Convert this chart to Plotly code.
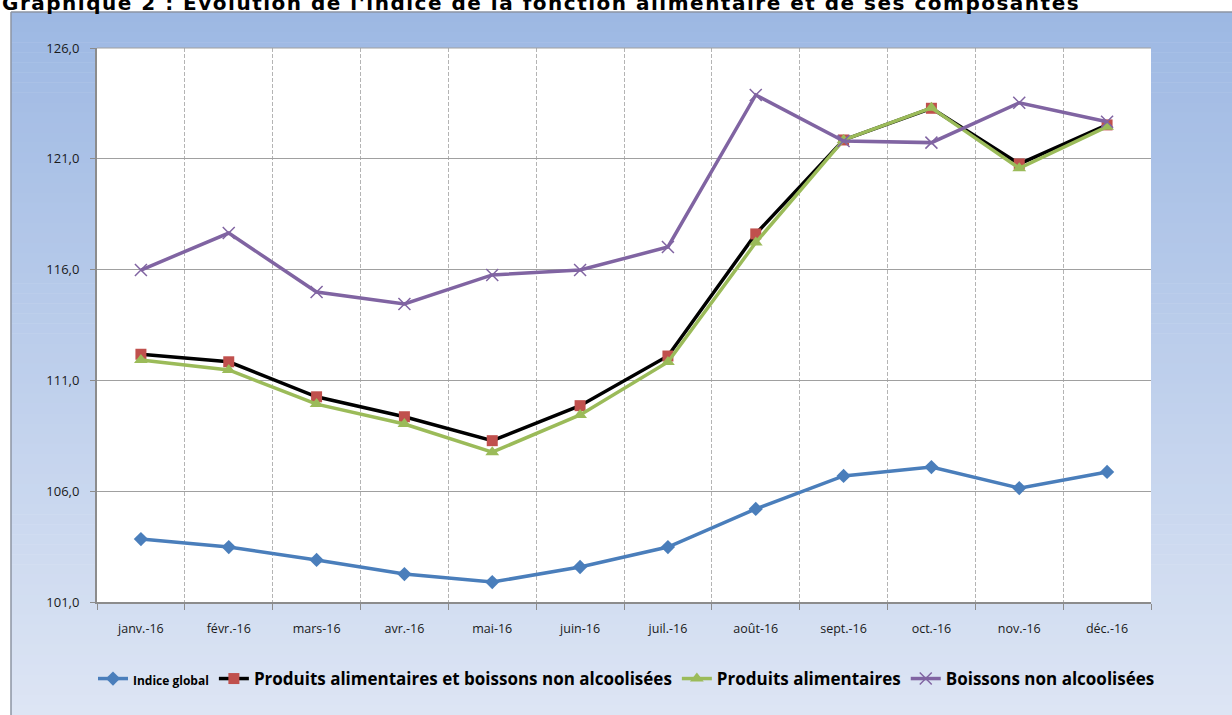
import plotly.graph_objects as go

months = ["janv.-16", "févr.-16", "mars-16", "avr.-16", "mai-16", "juin-16",
          "juil.-16", "août-16", "sept.-16", "oct.-16", "nov.-16", "déc.-16"]
indice_global = [103.84, 103.48, 102.9, 102.26, 101.9, 102.58, 103.48, 105.2, 106.69, 107.09, 106.14, 106.87]
prod_alim_boissons = [112.18, 111.84, 110.26, 109.36, 108.28, 109.86, 112.1, 117.61, 121.85, 123.28, 120.77, 122.53]
prod_alim = [111.92, 111.47, 109.93, 109.03, 107.76, 109.44, 111.83, 117.22, 121.85, 123.3, 120.57, 122.45]
boissons = [115.98, 117.65, 114.99, 114.45, 115.76, 115.98, 117.02, 123.88, 121.8, 121.73, 123.53, 122.67]
y_ticks = [101, 106, 111, 116, 121, 126]

W, H = 1232, 715
L, R, T, B = 97, 81, 48, 113
pw, ph = W - L - R, H - T - B

def px(x):
    return (x - L) / pw

def py(y):
    return (H - B - y) / ph

fig = go.Figure()
fig.add_trace(go.Scatter(x=months, y=indice_global, mode="lines+markers",
                         name="<span style='font-size:12px'>Indice global</span>",
                         line=dict(color="#4A7EBB", width=3.5),
                         marker=dict(symbol="diamond", size=11, color="#4A7EBB")))
fig.add_trace(go.Scatter(x=months, y=prod_alim_boissons, mode="lines+markers",
                         name="Produits alimentaires et boissons non alcoolisées",
                         line=dict(color="#000000", width=3.5),
                         marker=dict(symbol="square", size=11, color="#C0504D")))
fig.add_trace(go.Scatter(x=months, y=prod_alim, mode="lines+markers",
                         name="Produits alimentaires",
                         line=dict(color="#9BBB59", width=3.5),
                         marker=dict(symbol="triangle-up", size=12, color="#9BBB59")))
fig.add_trace(go.Scatter(x=months, y=boissons, mode="lines+markers",
                         name="Boissons non alcoolisées",
                         line=dict(color="#8064A2", width=3.5),
                         marker=dict(symbol="x-thin", size=12, color="#8064A2",
                                     line=dict(color="#8064A2", width=1.5))))

# gradient chart-area background
shapes = []
top_c = (157, 184, 227)
bot_c = (221, 229, 244)
y0, y1 = 12, H
n = 70
for i in range(n):
    a = y0 + (y1 - y0) * i / n
    b = y0 + (y1 - y0) * (i + 1) / n
    t = (i + 0.5) / n
    c = tuple(int(round(top_c[k] + (bot_c[k] - top_c[k]) * t)) for k in range(3))
    shapes.append(dict(type="rect", xref="paper", yref="paper", layer="below",
                       x0=px(11), x1=px(W + 2), y0=py(b + 0.5), y1=py(a),
                       fillcolor="rgb(%d,%d,%d)" % c, line=dict(width=0)))
shapes.append(dict(type="rect", xref="paper", yref="paper", layer="below",
                   x0=0, x1=1, y0=0, y1=1, fillcolor="white", line=dict(width=0)))
shapes.append(dict(type="line", xref="paper", yref="paper", x0=px(11), x1=px(W + 2),
                   y0=py(12), y1=py(12), line=dict(color="#8C95A3", width=1.5)))
shapes.append(dict(type="line", xref="paper", yref="paper", x0=px(11), x1=px(11),
                   y0=py(12), y1=py(H + 2), line=dict(color="#8C95A3", width=1.5)))
shapes.append(dict(type="line", xref="paper", yref="paper", x0=0, x1=1,
                   y0=1, y1=1, line=dict(color="#A0A0A0", width=1.2)))

title_text = ("<b><span style='letter-spacing:1.5px'>Graphique 2 : Evolution de l'indice de la "
              "fonction alimentaire et de ses composantes</span></b>")

fig.update_layout(
    width=W, height=H,
    margin=dict(l=L, r=R, t=T, b=B, autoexpand=False),
    paper_bgcolor="white", plot_bgcolor="white",
    separators=", ",
    shapes=shapes,
    showlegend=True,
    legend=dict(orientation="h", x=px(93), xanchor="left", y=py(679), yanchor="middle",
                font=dict(family="Open Sans", size=17, color="#000000", weight="bold"),
                bgcolor="rgba(0,0,0,0)", itemwidth=30, tracegroupgap=0),
    font=dict(family="Open Sans", size=12, color="#1a1a1a"),
    annotations=[dict(text=title_text,
                      xref="paper", yref="paper", x=px(0), y=py(3.5), xanchor="left", yanchor="middle",
                      showarrow=False, font=dict(family="DejaVu Sans", size=20, color="#000000"))],
)
fig.update_xaxes(type="category", tickson="boundaries", ticks="outside", ticklen=6,
                 tickcolor="#8C8C8C", showgrid=True, gridcolor="#B4B4B4", griddash="4px,2px",
                 gridwidth=1, showline=True, linecolor="#8C8C8C", linewidth=2,
                 tickfont=dict(family="Open Sans", size=12.5, color="#1a1a1a"),
                 range=[-0.5, 11.5], zeroline=False, ticklabelstandoff=14)
fig.update_yaxes(range=[101, 126], tickvals=y_ticks, tickformat=".1f", ticks="outside",
                 ticklen=5, tickcolor="#8C8C8C", showgrid=True, gridcolor="#A0A0A0",
                 gridwidth=1.2, showline=True, linecolor="#8C8C8C", linewidth=2,
                 tickfont=dict(family="Open Sans", size=13, color="#1a1a1a"),
                 zeroline=False, ticklabelstandoff=8)

fig.write_html("out.html", config={"displayModeBar": False},
               post_script="document.body.style.margin='0px';")
